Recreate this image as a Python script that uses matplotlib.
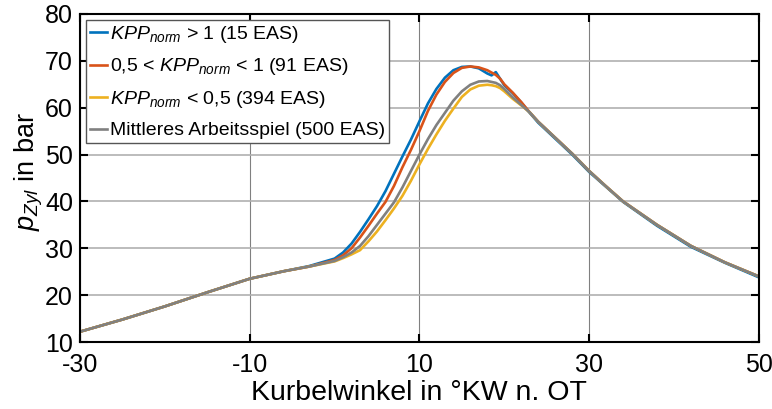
import matplotlib
matplotlib.use("Agg")
import matplotlib.pyplot as plt

plt.rcParams['font.family'] = ['Liberation Sans', 'DejaVu Sans']
plt.rcParams['mathtext.fontset'] = 'custom'
plt.rcParams['mathtext.rm'] = 'Liberation Sans'
plt.rcParams['mathtext.it'] = 'Liberation Sans:italic'
plt.rcParams['axes.unicode_minus'] = False

# Kurbelwinkel in °KW n. OT
angle = [-30, -25, -20, -15, -10, -6, -3, 0, 1, 2, 3, 4, 5, 6, 7, 8, 9, 10,
         11, 12, 13, 14, 15, 16, 17, 18, 18.5, 19, 19.5, 20, 21, 22, 23, 24,
         26, 28, 30, 32, 34, 38, 42, 46, 50]

# Zylinderdruck in bar
p_high = [12.2, 14.8, 17.6, 20.6, 23.5, 25.1, 26.2, 27.8, 29.1, 31.0, 33.5,
          36.2, 39.0, 42.2, 45.9, 49.6, 53.2, 57.1, 60.9, 64.0, 66.4, 68.0,
          68.7, 68.8, 68.4, 67.3, 66.9, 67.6, 66.2, 64.8, 63.1, 61.1, 58.9,
          56.8, 53.4, 50.0, 46.3, 43.1, 39.9, 34.8, 30.3, 26.9, 23.8]
p_mid = [12.2, 14.8, 17.6, 20.6, 23.5, 25.1, 26.1, 27.5, 28.5, 30.0, 32.3,
         34.8, 37.4, 39.9, 43.3, 47.3, 51.0, 55.0, 59.3, 62.8, 65.5, 67.4,
         68.5, 68.8, 68.6, 68.0, 67.5, 67.0, 66.2, 65.0, 63.2, 61.2, 59.0,
         57.0, 53.6, 50.2, 46.5, 43.2, 40.0, 35.0, 30.5, 27.0, 24.0]
p_low = [12.2, 14.8, 17.6, 20.6, 23.5, 25.1, 26.1, 27.2, 27.9, 28.7, 29.6,
         31.5, 33.6, 36.0, 38.5, 41.2, 44.4, 47.9, 51.2, 54.3, 57.2, 59.8,
         62.3, 63.9, 64.7, 64.9, 64.8, 64.6, 64.2, 63.5, 61.9, 60.5, 59.0,
         57.0, 53.6, 50.2, 46.5, 43.2, 40.0, 35.0, 30.5, 27.0, 24.0]
p_mean = [12.2, 14.8, 17.6, 20.6, 23.5, 25.1, 26.1, 27.3, 28.1, 29.1, 30.5,
          32.6, 35.0, 37.4, 39.8, 43.0, 46.5, 50.0, 53.3, 56.3, 58.9, 61.5,
          63.5, 64.9, 65.6, 65.7, 65.5, 65.3, 64.8, 64.0, 62.2, 60.6, 59.0,
          57.0, 53.6, 50.2, 46.5, 43.2, 40.0, 35.0, 30.5, 27.0, 24.0]

labels = [r'$\mathit{KPP}_{\mathit{norm}}$ > 1 (15 EAS)',
          r'0,5 < $\mathit{KPP}_{\mathit{norm}}$ < 1 (91 EAS)',
          r'$\mathit{KPP}_{\mathit{norm}}$ < 0,5 (394 EAS)',
          'Mittleres Arbeitsspiel (500 EAS)']
colors = ['#0072BD', '#D95319', '#EDB120', '#808080']

fig = plt.figure(figsize=(7.72, 4.09), dpi=100)
ax = fig.add_axes([0.1036, 0.1638, 0.8794, 0.802])

for p, lab, c in zip([p_high, p_mid, p_low, p_mean], labels, colors):
    ax.plot(angle, p, color=c, lw=1.9, label=lab)

ax.set_xlim(-30, 50)
ax.set_ylim(10, 80)
ax.set_xticks([-30, -10, 10, 30, 50])
ax.set_yticks(range(10, 81, 10))

# Gitter: horizontal hell, vertikal dunkler
ax.grid(axis='y', color='#b0b0b0', lw=1.2)
ax.grid(axis='x', color='#808080', lw=0.8)
ax.set_axisbelow(True)

for s in ax.spines.values():
    s.set_linewidth(1.5)
ax.tick_params(direction='in', length=6, width=1.5, top=True, right=True,
               labelsize=18)
ax.tick_params(axis='x', pad=8)
ax.tick_params(axis='y', pad=5)

ax.set_xlabel('Kurbelwinkel in °KW n. OT', fontsize=20.5, labelpad=2)
ax.set_ylabel(r'$p_{Zyl}$ in bar', fontsize=19.5)
ax.yaxis.set_label_coords(-0.052, 0.52)

leg = ax.legend(loc='upper left', fontsize=14, handlelength=0.9,
                handletextpad=0.15, borderpad=0.2, labelspacing=0.6,
                borderaxespad=0.3, fancybox=False, framealpha=1)
leg.get_frame().set_edgecolor('#555555')
leg.get_frame().set_linewidth(1.0)

fig.savefig('out.png', dpi=100)
